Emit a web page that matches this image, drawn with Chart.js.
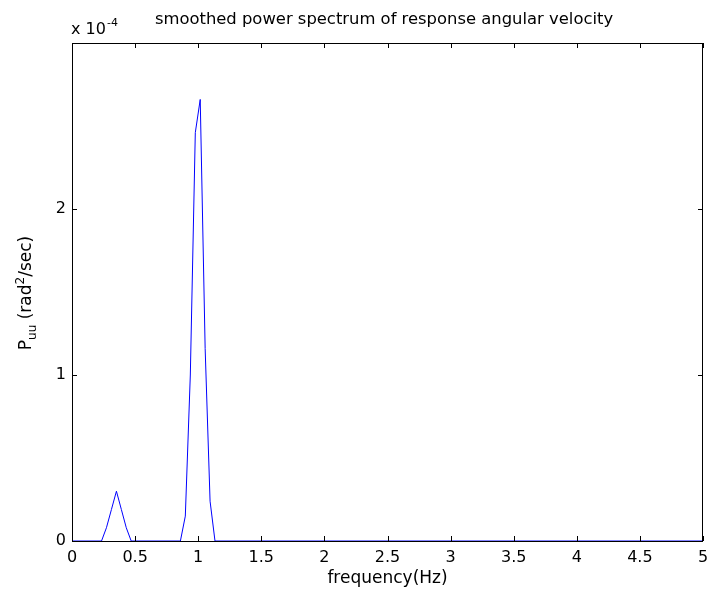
<!DOCTYPE html>
<html>
<head>
<meta charset="utf-8">
<script src="https://cdn.jsdelivr.net/npm/chart.js@4.4.1/dist/chart.umd.min.js"></script>
<style>
  html, body { margin: 0; padding: 0; background: #fff; }
  #wrap { width: 708px; height: 595px; }
</style>
</head>
<body>
<div id="wrap"><canvas id="spectrum" width="708" height="595"></canvas></div>
<script>
// frequency (Hz) and smoothed power (x 1e-4 rad^2/sec)
const freqHz = [0, 0.234, 0.273, 0.3125, 0.352, 0.391, 0.430, 0.469,
                0.859, 0.898, 0.9375, 0.977, 1.016, 1.055, 1.094, 1.133, 5];
const powerE4 = [0, 0, 0.08, 0.19, 0.30, 0.19, 0.08, 0,
                 0, 0.15, 1.0, 2.46, 2.66, 1.16, 0.24, 0, 0];
const xTicks = [0, 0.5, 1, 1.5, 2, 2.5, 3, 3.5, 4, 4.5, 5];
const yTicks = [0, 1, 2];

const FONT = '"DejaVu Sans", sans-serif';

const points = freqHz.map(function (f, i) {
    return { x: f, y: powerE4[i] };
});

// MATLAB style box, inward ticks and texts with sub/superscripts
const matlabAxes = {
    id: 'matlabAxes',
    afterDraw: function (chart) {
        const ctx = chart.ctx;
        const a = chart.chartArea;
        const xs = chart.scales.x;
        const ys = chart.scales.y;
        const tl = 5;
        ctx.save();
        ctx.strokeStyle = '#000';
        ctx.lineWidth = 1;
        ctx.beginPath();
        xTicks.forEach(function (t) {
            const px = Math.round(xs.getPixelForValue(t)) + 0.5;
            ctx.moveTo(px, a.bottom); ctx.lineTo(px, a.bottom - tl);
            ctx.moveTo(px, a.top); ctx.lineTo(px, a.top + tl);
        });
        yTicks.forEach(function (t) {
            const py = Math.round(ys.getPixelForValue(t)) + 0.5;
            ctx.moveTo(a.left, py); ctx.lineTo(a.left + tl, py);
            ctx.moveTo(a.right, py); ctx.lineTo(a.right - tl, py);
        });
        ctx.stroke();
        ctx.strokeRect(Math.round(a.left) + 0.5, Math.round(a.top) + 0.5,
            Math.round(a.right - a.left) - 1, Math.round(a.bottom - a.top));

        ctx.fillStyle = '#000';
        ctx.textBaseline = 'alphabetic';

        // title
        ctx.font = '16.4px ' + FONT;
        ctx.textAlign = 'center';
        ctx.fillText('smoothed power spectrum of response angular velocity', 384, 24);

        // exponent
        ctx.textAlign = 'left';
        ctx.font = '16px ' + FONT;
        ctx.fillText('x 10', 71, 34);
        let w = ctx.measureText('x 10').width;
        ctx.font = '11px ' + FONT;
        ctx.fillText('-4', 71 + w + 1, 26);

        // x label
        ctx.font = '17px ' + FONT;
        ctx.textAlign = 'center';
        ctx.fillText('frequency(Hz)', (a.left + a.right) / 2, 583);

        // y label, rotated
        ctx.translate(31, 293);
        ctx.rotate(-Math.PI / 2);
        const parts = [
            ['P', 17, 0], ['uu', 12, 5], [' (rad', 17, 0], ['2', 12, -7], ['/sec)', 17, 0]
        ];
        let total = 0;
        parts.forEach(function (p) {
            ctx.font = p[1] + 'px ' + FONT;
            total += ctx.measureText(p[0]).width;
        });
        let cx = -total / 2;
        ctx.textAlign = 'left';
        parts.forEach(function (p) {
            ctx.font = p[1] + 'px ' + FONT;
            ctx.fillText(p[0], cx, p[2]);
            cx += ctx.measureText(p[0]).width;
        });
        ctx.restore();
    }
};

new Chart(document.getElementById('spectrum'), {
    type: 'scatter',
    data: {
        datasets: [{
            data: points,
            showLine: true,
            borderColor: '#0000ff',
            borderWidth: 1,
            pointRadius: 0,
            tension: 0,
            fill: false
        }]
    },
    options: {
        responsive: false,
        animation: false,
        layout: { padding: { left: 0, right: 5, top: 43, bottom: 0 } },
        plugins: {
            legend: { display: false },
            tooltip: { enabled: false }
        },
        scales: {
            x: {
                type: 'linear',
                min: 0,
                max: 5,
                afterBuildTicks: function (scale) {
                    scale.ticks = xTicks.map(function (v) { return { value: v }; });
                },
                afterFit: function (scale) {
                    scale.height = 54;
                    scale.paddingLeft = 0;
                    scale.paddingRight = 0;
                },
                grid: { display: false, drawTicks: false },
                border: { display: false },
                ticks: {
                    color: '#000',
                    padding: 7,
                    maxRotation: 0,
                    font: { family: FONT, size: 16 },
                    callback: function (v) { return String(v); }
                }
            },
            y: {
                type: 'linear',
                min: 0,
                max: 3,
                afterBuildTicks: function (scale) {
                    scale.ticks = yTicks.map(function (v) { return { value: v }; });
                },
                afterFit: function (scale) {
                    scale.width = 72;
                    scale.paddingTop = 0;
                    scale.paddingBottom = 0;
                },
                grid: { display: false, drawTicks: false },
                border: { display: false },
                ticks: {
                    color: '#000',
                    padding: 6,
                    font: { family: FONT, size: 16 },
                    callback: function (v) { return String(v); }
                }
            }
        }
    },
    plugins: [matlabAxes]
});
</script>
</body>
</html>
